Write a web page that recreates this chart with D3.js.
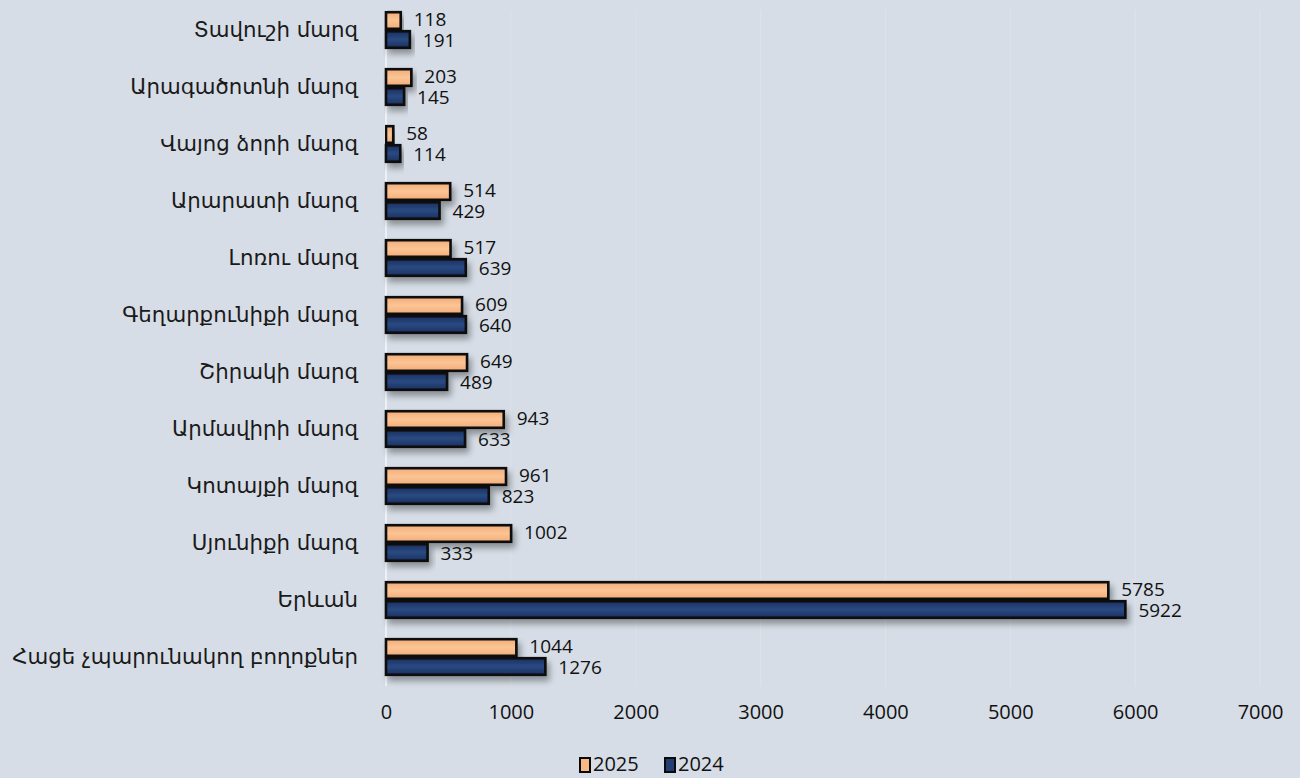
<!DOCTYPE html>
<html><head><meta charset="utf-8">
<script src="https://cdn.jsdelivr.net/npm/d3@7"></script>
<style>
html,body{margin:0;padding:0;background:#d6dde6;}
svg{display:block;}
</style></head>
<body>
<svg id="c" width="1300" height="778"></svg>
<script>
const categories = ["Տավուշի մարզ","Արագածոտնի մարզ","Վայոց ձորի մարզ","Արարատի մարզ","Լոռու մարզ","Գեղարքունիքի մարզ","Շիրակի մարզ","Արմավիրի մարզ","Կոտայքի մարզ","Սյունիքի մարզ","Երևան","Հացե չպարունակող բողոքներ"];
const series = ["2025","2024"];
const values2025 = [118,203,58,514,517,609,649,943,961,1002,5785,1044];
const values2024 = [191,145,114,429,639,640,489,633,823,333,5922,1276];
const xTicks = [0,1000,2000,3000,4000,5000,6000,7000];

const svg = d3.select("#c");
const W = 1300, H = 778;
svg.append("rect").attr("width",W).attr("height",H).attr("fill","#d6dde6");

const defs = svg.append("defs");
const f = defs.append("filter").attr("id","sh").attr("x","-10%").attr("y","-50%").attr("width","130%").attr("height","250%");
f.append("feDropShadow").attr("dx",3).attr("dy",5).attr("stdDeviation",3).attr("flood-color","#000").attr("flood-opacity",0.35);
function grad(id, edge, mid){
  const g = defs.append("linearGradient").attr("id",id).attr("x1",0).attr("y1",0).attr("x2",0).attr("y2",1);
  g.append("stop").attr("offset","0%").attr("stop-color",edge);
  g.append("stop").attr("offset","50%").attr("stop-color",mid);
  g.append("stop").attr("offset","100%").attr("stop-color",edge);
}
grad("gO","#f2ad79","#fcc495");
grad("gN","#1b3160","#2a4a82");
const fills = {"2025":"url(#gO)","2024":"url(#gN)"};
const legendFills = {"2025":"#f8b985","2024":"#223f72"};
const labelShift = {"2025":0,"2024":2.5};

const x = d3.scaleLinear().domain([0,7000]).range([386,1260]);
const y0 = d3.scaleBand().domain(categories).range([1.5,685.5]).paddingInner(1/3).paddingOuter(1/6);
const y1 = d3.scaleBand().domain(series).range([0,y0.bandwidth()]);

// gridlines
svg.append("g").selectAll("line").data(xTicks.slice(1)).join("line")
  .attr("x1",d=>x(d)).attr("x2",d=>x(d)).attr("y1",10).attr("y2",686)
  .attr("stroke","#dde3ea").attr("stroke-width",1);
// axis line
svg.append("line").attr("x1",x(0)).attr("x2",x(0)).attr("y1",10).attr("y2",686)
  .attr("stroke","#eef1f5").attr("stroke-width",2);

// x axis
const xAxis = d3.axisBottom(x).tickValues(xTicks).tickSize(0).tickPadding(0).tickFormat(d3.format("d"));
const gx = svg.append("g").attr("transform","translate(0,705)").call(xAxis);
gx.select(".domain").remove();
gx.selectAll("text").attr("font-family","Open Sans, sans-serif").attr("font-size",20).attr("fill","#111").attr("dy","0.71em");

// y axis labels
const yAxis = d3.axisLeft(y0).tickSize(0).tickPadding(0);
const gy = svg.append("g").attr("transform","translate(358,0)").call(yAxis);
gy.select(".domain").remove();
gy.selectAll("text").attr("font-family","DejaVu Sans, Noto Sans, sans-serif").attr("font-size",21.3).attr("fill","#1a1a1a");

const rows = categories.map((c,i)=>({c, vals:[{s:"2025",v:values2025[i]},{s:"2024",v:values2024[i]}]}));
const grp = svg.append("g").selectAll("g").data(rows).join("g")
  .attr("transform",d=>`translate(0,${y0(d.c)})`);
grp.selectAll("rect").data(d=>d.vals).join("rect")
  .attr("x",x(0)).attr("y",d=>y1(d.s)+1.2)
  .attr("width",d=>x(d.v)-x(0)).attr("height",y1.bandwidth()-2.4)
  .attr("fill",d=>fills[d.s]).attr("stroke","#0a0a0a").attr("stroke-width",2.6)
  .attr("filter","url(#sh)");
grp.selectAll("text").data(d=>d.vals).join("text")
  .attr("x",d=>x(d.v)+13).attr("y",d=>y1(d.s)+y1.bandwidth()/2+labelShift[d.s])
  .attr("dominant-baseline","middle")
  .attr("font-family","Open Sans, sans-serif").attr("font-size",19).attr("fill","#111")
  .text(d=>d.v);

// legend
const lg = svg.append("g").attr("transform","translate(580,758)");
const items = [{s:"2025",x:0},{s:"2024",x:85}];
items.forEach(it=>{
  lg.append("rect").attr("x",it.x).attr("y",0).attr("width",10).attr("height",14)
    .attr("fill",legendFills[it.s]).attr("stroke","#0a0a0a").attr("stroke-width",2);
  lg.append("text").attr("x",it.x+13).attr("y",8).attr("dominant-baseline","middle")
    .attr("font-family","Open Sans, sans-serif").attr("font-size",20).attr("fill","#111").text(it.s);
});
</script>
</body></html>
